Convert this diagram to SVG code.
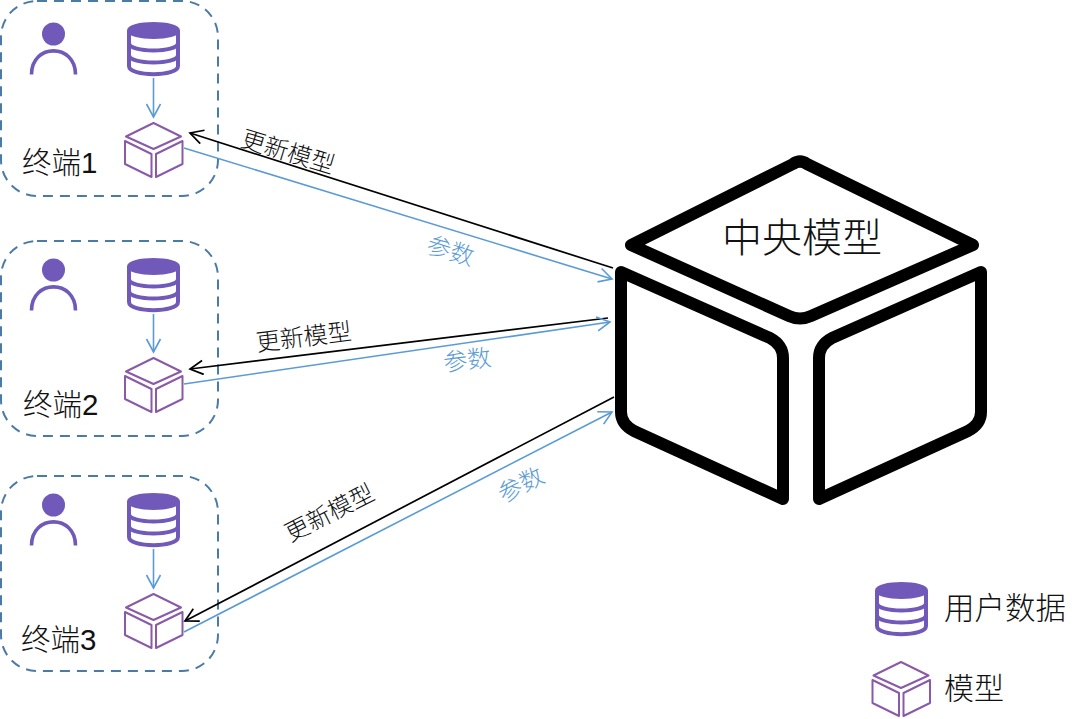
<svg xmlns="http://www.w3.org/2000/svg" width="1080" height="719" viewBox="0 0 1080 719">
<style>
text{font-family:"Noto Sans CJK SC","Liberation Sans",sans-serif;font-weight:300;fill:#111}
.t{font-size:29.500px;font-family:"Liberation Sans","Noto Sans CJK SC",sans-serif}
.l{font-size:24px;text-anchor:middle;dominant-baseline:central}
.b{fill:#5b9bd5}
.box{fill:none;stroke:#4a7ba7;stroke-width:2;stroke-dasharray:10 7}
.bl{stroke:#5b9bd5;stroke-width:1.6;fill:none}
.bk{stroke:#000;stroke-width:1.7;fill:none}
.big{fill:none;stroke:#000;stroke-width:12;stroke-linejoin:round}
</style>
<defs>
<marker id="ab" markerUnits="userSpaceOnUse" markerWidth="18" markerHeight="18" refX="15" refY="8" orient="auto"><path d="M2 1L15 8L2 15" fill="none" stroke="#5b9bd5" stroke-width="1.6"/></marker>
<marker id="ak" markerUnits="userSpaceOnUse" markerWidth="18" markerHeight="18" refX="15" refY="8" orient="auto"><path d="M2 1L15 8L2 15" fill="none" stroke="#000" stroke-width="1.7"/></marker>
<g id="person"><circle cx="53.500" cy="34" r="11.500" fill="#7059b8"/><path d="M31.500 74.500C31.500 43 75.500 43 75.500 74.500" fill="none" stroke="#7059b8" stroke-width="3.600"/></g>
<g id="db" fill="none" stroke="#7059b8" stroke-width="4"><ellipse cx="153.500" cy="30.500" rx="24.500" ry="6.500" fill="#7059b8"/><path d="M129 30.500V66C129 77 178 77 178 66V30.500"/><path d="M129 43C129 53 178 53 178 43"/><path d="M129 55C129 65 178 65 178 55"/></g>
<g id="cube" fill="none" stroke="#8a5aa8" stroke-width="2" stroke-linejoin="round"><path d="M153.500 123L181 136.500L153.500 149L126 136.500Z"/><path d="M125 141L151.500 154V177L125 164Z"/><path d="M156 154L182.500 141V164L156 177Z"/></g>
</defs>
<g id="terminal1"><rect class="box" x="1" y="1" width="217" height="195" rx="36"/><use href="#person"/><use href="#db"/><use href="#cube"/><text class="t" x="22" y="173">终端1</text></g>
<g id="terminal2"><rect class="box" x="1" y="241" width="217" height="195" rx="36"/><use href="#person" y="236"/><use href="#db" y="236"/><use href="#cube" y="235"/><text class="t" x="23" y="415">终端2</text></g>
<g id="terminal3"><rect class="box" x="1" y="476" width="217" height="195" rx="36"/><use href="#person" y="471"/><use href="#db" y="471"/><use href="#cube" y="471"/><text class="t" x="21" y="650">终端3</text></g>
<g id="central"><path class="big" d="M793 164Q800 159 807 164L973 245L811 316Q800 321 789 316L631 245Z"/><path class="big" d="M621 272L770 338Q783 345 783 358V499L634 431Q621 424 621 412Z"/><path class="big" d="M981 272L832 338Q819 345 819 358V499L968 431Q981 424 981 412Z"/><text x="802" y="252" font-size="40" text-anchor="middle">中央模型</text></g>
<g id="connectors">
<path class="bl" d="M153.500 78V117" marker-end="url(#ab)"/><path class="bl" d="M153.500 314V352" marker-end="url(#ab)"/><path class="bl" d="M153.500 549V588" marker-end="url(#ab)"/>
<path class="bk" d="M613 268L190 133" marker-end="url(#ak)"/><path class="bl" d="M184 148L612 279" marker-end="url(#ab)"/>
<path class="bk" d="M608 318L190 369" marker-end="url(#ak)"/><path class="bl" d="M184 384L610 322" marker-end="url(#ab)"/>
<path class="bk" d="M614 397L185 621" marker-end="url(#ak)"/><path class="bl" d="M184 632L612 412" marker-end="url(#ab)"/>
</g>
<g id="labels">
<text class="l" transform="translate(288.500 150) rotate(17)">更新模型</text>
<text class="l b" transform="translate(451 249) rotate(17)">参数</text>
<text class="l" transform="translate(303.500 335) rotate(-7)">更新模型</text>
<text class="l b" transform="translate(467 358) rotate(-7)">参数</text>
<text class="l" transform="translate(328.500 511) rotate(-27)">更新模型</text>
<text class="l b" transform="translate(520 483) rotate(-27)">参数</text>
</g>
<g id="legend-data"><use href="#db" x="748" y="560"/><text x="944" y="619" font-size="30.500">用户数据</text></g>
<g id="legend-model"><use href="#cube" x="747.500" y="539"/><text x="944" y="699" font-size="30">模型</text></g>
</svg>
